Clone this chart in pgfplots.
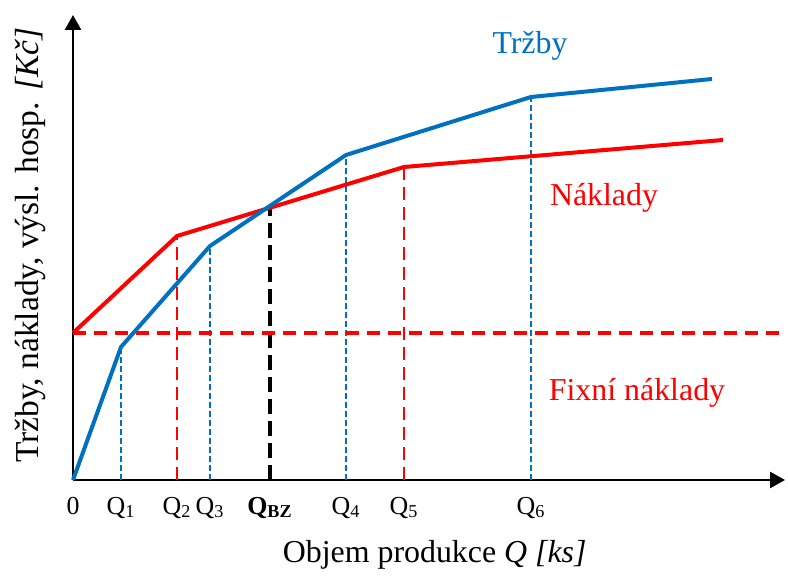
\documentclass[border=0pt]{standalone}
\usepackage{fontspec}
\setmainfont{Liberation Serif}
\usepackage{pgfplots}
\pgfplotsset{compat=1.18}
\usetikzlibrary{arrows.meta}
\definecolor{trzby}{RGB}{0,112,192}
\definecolor{naklady}{RGB}{255,0,0}

\begin{document}
\begin{tikzpicture}
\begin{axis}[
  x=0.5bp, y=0.5bp,
  xmin=0, xmax=712, ymin=0, ymax=465,
  axis lines=left,
  axis line style={line width=1.3bp, -{Triangle[length=7.5bp,width=8bp]}},
  ytick=\empty,
  xtick={0,48,104,137,197,273,331,458},
  xticklabels={0,Q\textsubscript{1},Q\textsubscript{2},Q\textsubscript{3},\textbf{Q\textsubscript{BZ}},Q\textsubscript{4},Q\textsubscript{5},Q\textsubscript{6}},
  major tick length=0,
  xticklabel style={font=\fontsize{13}{15}\selectfont, anchor=north, yshift=-5bp},
  xlabel={Objem produkce \textit{Q [ks]}},
  ylabel={Tržby, náklady, výsl. hosp. \textit{[Kč]}},
  xlabel style={font=\fontsize{16}{19}\selectfont, at={(axis description cs:0.508,-0.161)}, anchor=center},
  ylabel style={font=\fontsize{16.8}{20}\selectfont, at={(axis description cs:-0.0604,0.505)}, anchor=center},
  clip=false,
]
% page frame (788 x 576 px)
\path (axis cs:-73,-96) rectangle (axis cs:715,480);

% vertical guides
\addplot[trzby, line width=0.9bp, dash pattern=on 3bp off 1.5bp] coordinates {(48,0) (48,133)};
\addplot[trzby, line width=0.9bp, dash pattern=on 3bp off 1.5bp] coordinates {(137,0) (137,234)};
\addplot[trzby, line width=0.9bp, dash pattern=on 3bp off 1.5bp] coordinates {(273,0) (273,325)};
\addplot[trzby, line width=0.9bp, dash pattern=on 3bp off 1.5bp] coordinates {(458,0) (458,383)};
\addplot[naklady, line width=1bp, dash pattern=on 6.5bp off 3.5bp] coordinates {(104,0) (104,244)};
\addplot[naklady, line width=1bp, dash pattern=on 6.5bp off 3.5bp] coordinates {(331,0) (331,313)};
\addplot[black, line width=2bp, dash pattern=on 7.5bp off 3.5bp] coordinates {(197,0) (197,272)};

% fixed costs
\addplot[naklady, line width=1.6bp, dash pattern=on 6.5bp off 4bp] coordinates {(0,147) (712,147)};

% costs and revenues
\addplot[naklady, line width=2bp] coordinates {(0,147) (104,244) (331,313) (650,340)};
\addplot[trzby, line width=2bp] coordinates {(0,0) (48,133) (137,234) (273,325) (458,383) (639,401)};

\node[trzby, font=\fontsize{16}{19}\selectfont] at (axis cs:457,434) {Tržby};
\node[naklady, font=\fontsize{16}{19}\selectfont] at (axis cs:531,282) {Náklady};
\node[naklady, font=\fontsize{16}{19}\selectfont] at (axis cs:564,87) {Fixní náklady};
\end{axis}
\end{tikzpicture}
\end{document}
